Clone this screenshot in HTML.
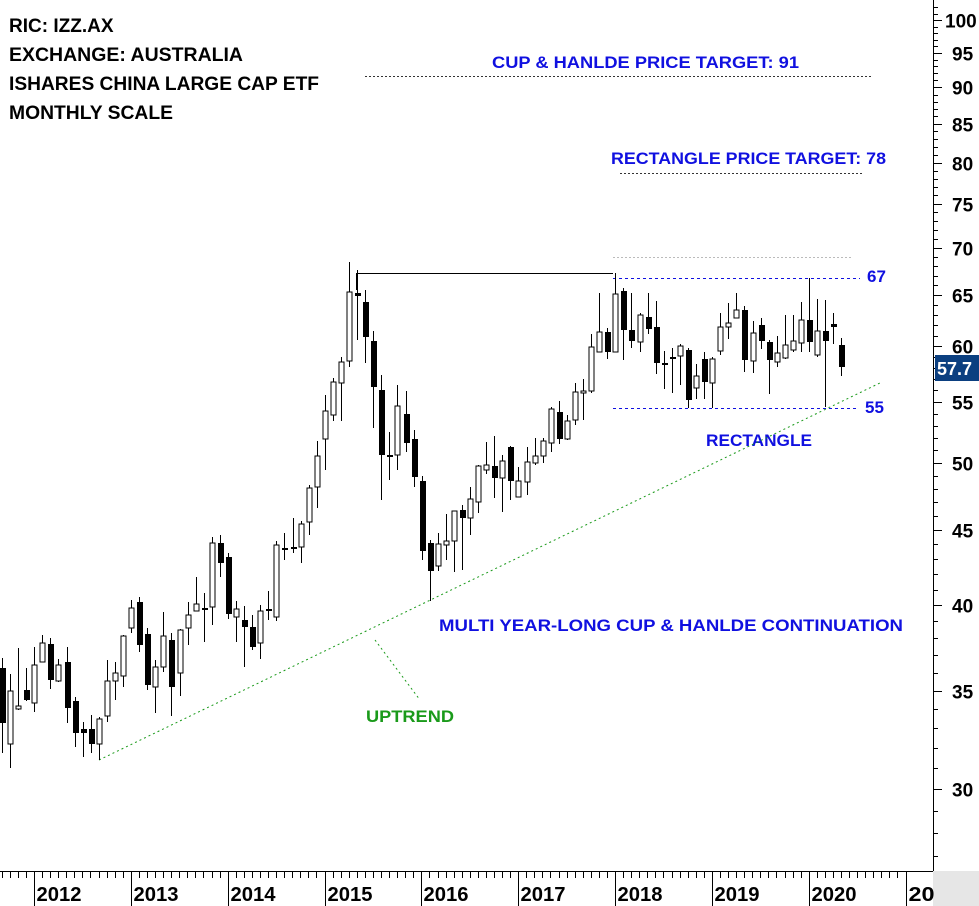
<!DOCTYPE html>
<html><head><meta charset="utf-8"><style>
html,body{margin:0;padding:0;background:#fff;}
svg{display:block;}
text{font-family:"Liberation Sans",sans-serif;font-weight:bold;}
</style></head><body>
<svg id="s" width="979" height="906" xmlns="http://www.w3.org/2000/svg">
<rect width="979" height="906" fill="#fff"/>
<rect x="933" y="871" width="46" height="35" fill="#e6e6e6"/>
<g font-size="19" fill="#000">
<text x="9" y="32">RIC: IZZ.AX</text>
<text x="9" y="61" textLength="234" lengthAdjust="spacingAndGlyphs">EXCHANGE: AUSTRALIA</text>
<text x="9" y="90" textLength="310" lengthAdjust="spacingAndGlyphs">ISHARES CHINA LARGE CAP ETF</text>
<text x="9" y="119" textLength="164" lengthAdjust="spacingAndGlyphs">MONTHLY SCALE</text>
</g>
<g font-size="17" fill="#1010e0">
<text x="492" y="68" textLength="307" lengthAdjust="spacingAndGlyphs">CUP &amp; HANLDE PRICE TARGET: 91</text>
<text x="611" y="164" textLength="275" lengthAdjust="spacingAndGlyphs">RECTANGLE PRICE TARGET: 78</text>
<text x="867" y="282">67</text>
<text x="865" y="413">55</text>
<text x="706" y="446" textLength="106" lengthAdjust="spacingAndGlyphs">RECTANGLE</text>
<text x="439" y="631" textLength="464" lengthAdjust="spacingAndGlyphs">MULTI YEAR-LONG CUP &amp; HANLDE CONTINUATION</text>
</g>
<text x="366" y="722" font-size="17" fill="#1a9a1a" textLength="88" lengthAdjust="spacingAndGlyphs">UPTREND</text>
<g stroke-width="1" fill="none">
<line x1="365" y1="76.5" x2="872" y2="76.5" stroke="#333" stroke-dasharray="2,2"/>
<line x1="620" y1="173.5" x2="862" y2="173.5" stroke="#333" stroke-dasharray="2,2"/>
<line x1="613" y1="257.5" x2="852" y2="257.5" stroke="#bbb" stroke-dasharray="2,2"/>
<line x1="356" y1="273.5" x2="613" y2="273.5" stroke="#000"/>
<line x1="356.5" y1="273" x2="356.5" y2="290" stroke="#000"/>
<line x1="613" y1="278.5" x2="860" y2="278.5" stroke="#1010e0" stroke-dasharray="3,3"/>
<line x1="613" y1="408.5" x2="856" y2="408.5" stroke="#1010e0" stroke-dasharray="3,3"/>
<line x1="99" y1="760" x2="882" y2="382" stroke="#1a9a1a" stroke-dasharray="2,3"/>
<line x1="375" y1="640" x2="420" y2="700" stroke="#1a9a1a" stroke-dasharray="2,3"/>
<line x1="933.5" y1="0" x2="933.5" y2="871" stroke="#000"/>
<line x1="0" y1="871.5" x2="933" y2="871.5" stroke="#000"/>
</g>
<g id="c"></g>
<g id="ax"></g>
<rect x="935" y="355" width="44" height="26" fill="#0b3f80"/>
<text x="937" y="375" font-size="18" fill="#fff">57.7</text>
</svg>
<script>
var d=[
['b',658,668,723,753],['w',674,691,744,768],['w',648,706,709,710],['b',668,690,700,701],['w',647,665,703,712],
['w',635,643,662,662],['b',638,644,680,689],['w',659,665,681,682],['b',647,662,708,723],['b',697,701,733,747],
['b',722,729,733,757],['b',715,729,744,753],['w',717,719,744,760],['w',660,681,716,722],['w',662,673,681,700],
['w',635,636,676,687],['w',600,608,628,633],['b',597,602,645,652],['b',628,634,685,690],['w',660,667,687,713],
['w',612,636,667,672],['b',633,640,687,716],['w',629,630,673,696],['w',602,615,628,645],['w',577,604,611,611],
['b',593,608,610,642],['w',537,543,607,625],['b',535,543,563,577],['b',553,557,614,619],['w',601,609,617,642],
['b',606,620,627,667],['b',615,627,647,650],['w',605,611,643,659],['b',591,609,610,620],['w',541,545,617,621],
['b',533,548,550,560],['b',518,547,549,553],['w',521,524,547,563],['w',485,488,522,535],['w',441,456,487,508],
['w',395,411,439,470],['w',378,382,415,421],['w',357,362,383,421],['w',262,292,361,367],['b',270,293,296,340],
['b',290,302,337,363],['b',331,341,387,428],['b',375,390,455,500],['b',432,455,456,480],['w',385,406,455,470],
['b',391,414,443,452],['b',430,439,477,487],['b',476,481,551,560],['b',540,543,571,601],['w',533,544,566,571],
['w',514,541,545,560],['w',511,511,541,572],['b',505,510,518,570],['w',487,499,518,535],['w',465,466,502,513],
['w',442,465,470,474],['b',436,466,478,498],['w',455,461,478,512],['b',446,447,481,500],['w',467,481,497,497],
['w',447,462,482,495],['w',438,456,463,465],['w',438,441,456,463],['w',407,409,443,452],['b',401,412,439,444],
['w',415,421,439,440],['w',383,392,420,425],['w',379,391,393,420],['w',334,347,391,393],['w',293,332,352,351],
['b',328,332,352,359],['w',273,294,352,352],['b',288,291,330,360],['b',293,330,341,348],['w',313,315,342,352],
['b',293,317,329,334],['b',301,327,363,374],['b',351,363,365,389],['b',348,357,359,393],['w',344,346,356,385],
['b',348,350,400,408],['w',364,376,388,399],['b',352,359,382,399],['w',357,359,383,408],['w',313,327,351,355],
['w',303,323,327,339],['w',293,310,318,318],['b',306,310,360,372],['w',321,333,361,373],['b',318,325,341,349],
['b',340,342,360,394],['w',336,353,362,367],['w',315,345,358,359],['w',315,341,350,352],['w',302,320,343,352],
['b',278,320,342,352],['w',299,331,355,357],['b',300,331,341,407],['b',313,324,327,344],['b',338,345,367,376]];
var g=document.getElementById('c'),h='';
d.forEach(function(c,i){var x=Math.round(2+8.07*i);var t=c[0],hi=c[1],bt=c[2],bb=c[3],lo=c[4];
h+='<line x1="'+(x+0.5)+'" y1="'+hi+'" x2="'+(x+0.5)+'" y2="'+lo+'" stroke="#000" stroke-width="1"/>';
var bh=Math.max(bb-bt,2);
if(t=='b')h+='<rect x="'+(x-2)+'" y="'+bt+'" width="6" height="'+bh+'" fill="#000"/>';
else h+='<rect x="'+(x-2)+'" y="'+bt+'" width="5" height="'+bh+'" fill="#fff" stroke="#000" stroke-width="1"/>';});
g.innerHTML=h;
var a='';function Y(p){return 789-638.6*Math.log(p/30);}
for(var p=26;p<=102;p++){var y=Math.round(Y(p))+0.5;if(y<2||y>868)continue;var mj=p%5==0;
a+='<line x1="933" y1="'+y+'" x2="'+(mj?942:938)+'" y2="'+y+'" stroke="#000"/>';
if(mj&&p>=30&&p<=100)a+='<text x="'+(p==100?945:952)+'" y="'+(y+7)+'" font-size="19" fill="#000">'+p+'</text>';}
for(var m=-5;m<=108;m++){var x=Math.round(34+8.07*m)+0.5;if(x<0||x>933)continue;var yr=(((m%12)+12)%12==0);
a+='<line x1="'+x+'" y1="871" x2="'+x+'" y2="'+(yr?906:878)+'" stroke="#000"/>';
if(yr){var Yr=2012+m/12;a+='<text x="'+(x+2)+'" y="901" font-size="20" fill="#000" font-family="Liberation Sans Narrow,Liberation Sans,sans-serif" textLength="'+(Yr==2021?26:45)+'" lengthAdjust="spacingAndGlyphs">'+(Yr==2021?'20':Yr)+'</text>';}}
document.getElementById('ax').innerHTML=a;
</script>
</body></html>
